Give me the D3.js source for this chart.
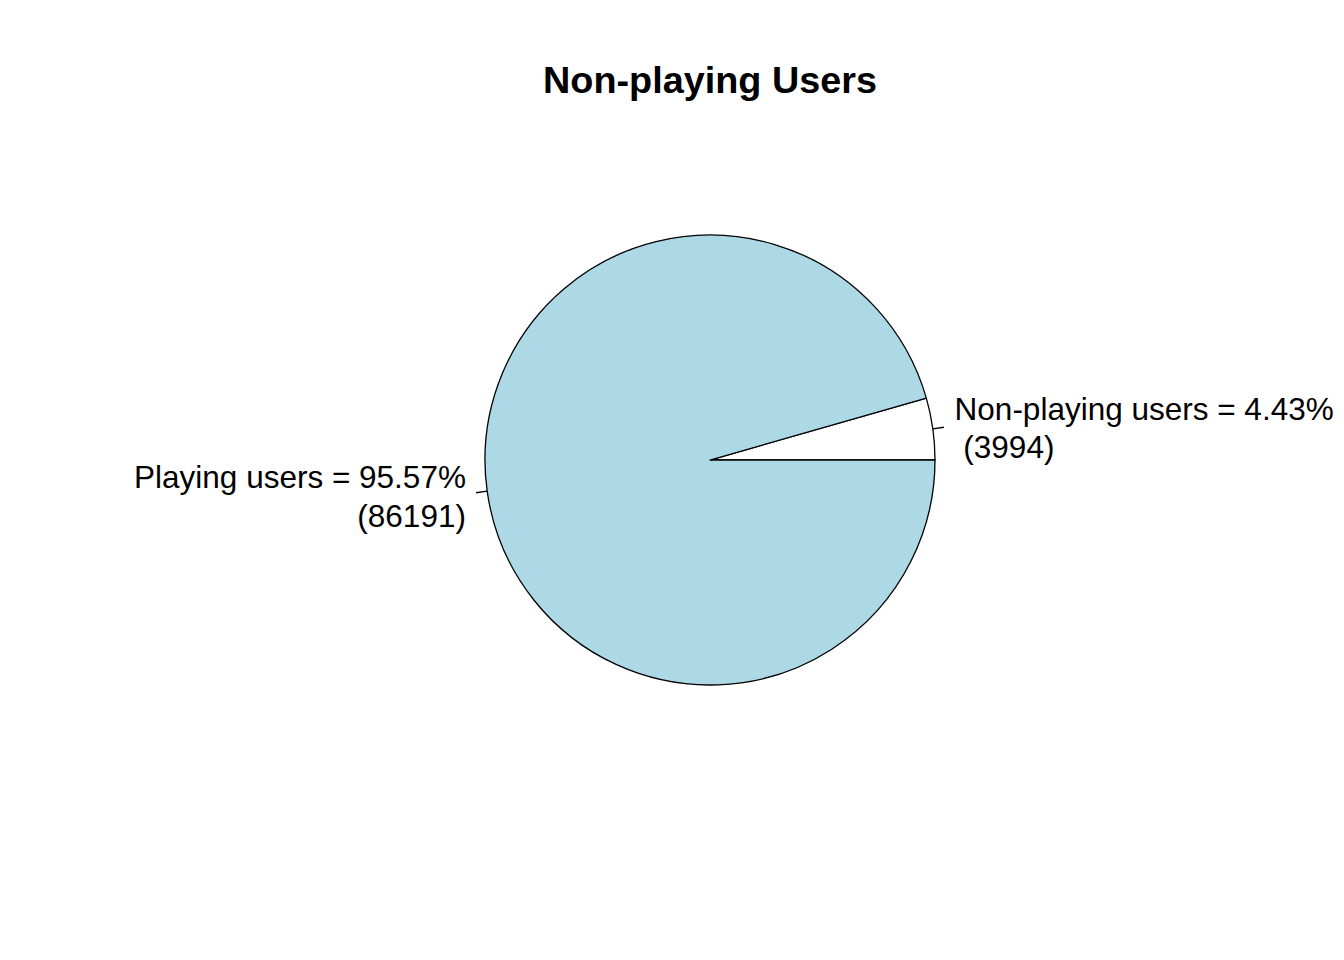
<!DOCTYPE html>
<html>
<head>
<meta charset="utf-8">
<script src="https://cdn.jsdelivr.net/npm/d3@7"></script>
<style>
  html, body { margin: 0; padding: 0; background: #fff; }
  svg { display: block; font-family: "Liberation Sans", Arial, sans-serif; }
</style>
</head>
<body>
<script>
const categories = ["Non-playing users", "Playing users"];
const counts = [3994, 86191];
const colors = ["#ffffff", "#add8e6"];
const title = "Non-playing Users";

const W = 1344, H = 960;
const cx = 710, cy = 460, R = 225;
const fs = 31.5, lineH = 38.4;

const svg = d3.select("body").append("svg").attr("width", W).attr("height", H);

svg.append("text")
  .attr("x", cx).attr("y", 93)
  .attr("text-anchor", "middle")
  .attr("font-weight", "bold")
  .attr("font-size", 37.8)
  .text(title);

const total = d3.sum(counts);
const data = categories.map((c, i) => ({ name: c, value: counts[i], color: colors[i] }));

// R-style pie: counter-clockwise from 3 o'clock
const pie = d3.pie().value(d => d.value).sort(null)
  .startAngle(Math.PI / 2).endAngle(Math.PI / 2 - 2 * Math.PI);
const arcs = pie(data);
const arc = d3.arc().innerRadius(0).outerRadius(R);

const g = svg.append("g").attr("transform", `translate(${cx},${cy})`);

g.selectAll("path.slice").data(arcs).enter().append("path")
  .attr("class", "slice")
  .attr("d", arc)
  .attr("fill", d => d.data.color)
  .attr("stroke", "#000")
  .attr("stroke-width", 1.3)
  .attr("stroke-linejoin", "round");

arcs.forEach(a => {
  const mid = (a.startAngle + a.endAngle) / 2; // d3 angle
  const sx = Math.sin(mid), sy = -Math.cos(mid);
  g.append("line")
    .attr("x1", R * sx).attr("y1", R * sy)
    .attr("x2", 1.05 * R * sx).attr("y2", 1.05 * R * sy)
    .attr("stroke", "#000").attr("stroke-width", 1.3);
  const tx = 1.1 * R * sx + (sx > 0 ? -0.5 : 1), ty = 1.1 * R * sy;
  const pct = (100 * a.data.value / total).toFixed(2);
  const lines = [`${a.data.name} = ${pct}%`, ` (${a.data.value})`];
  const t = g.append("text")
    .attr("font-size", fs)
    .attr("text-anchor", sx > 0 ? "start" : "end")
    .style("white-space", "pre")
    .attr("xml:space", "preserve");
  const base = ty + 0.42 * fs - lineH / 2;
  lines.forEach((l, i) => {
    t.append("tspan").attr("x", tx).attr("y", base + i * lineH).text(l);
  });
});
</script>
</body>
</html>
